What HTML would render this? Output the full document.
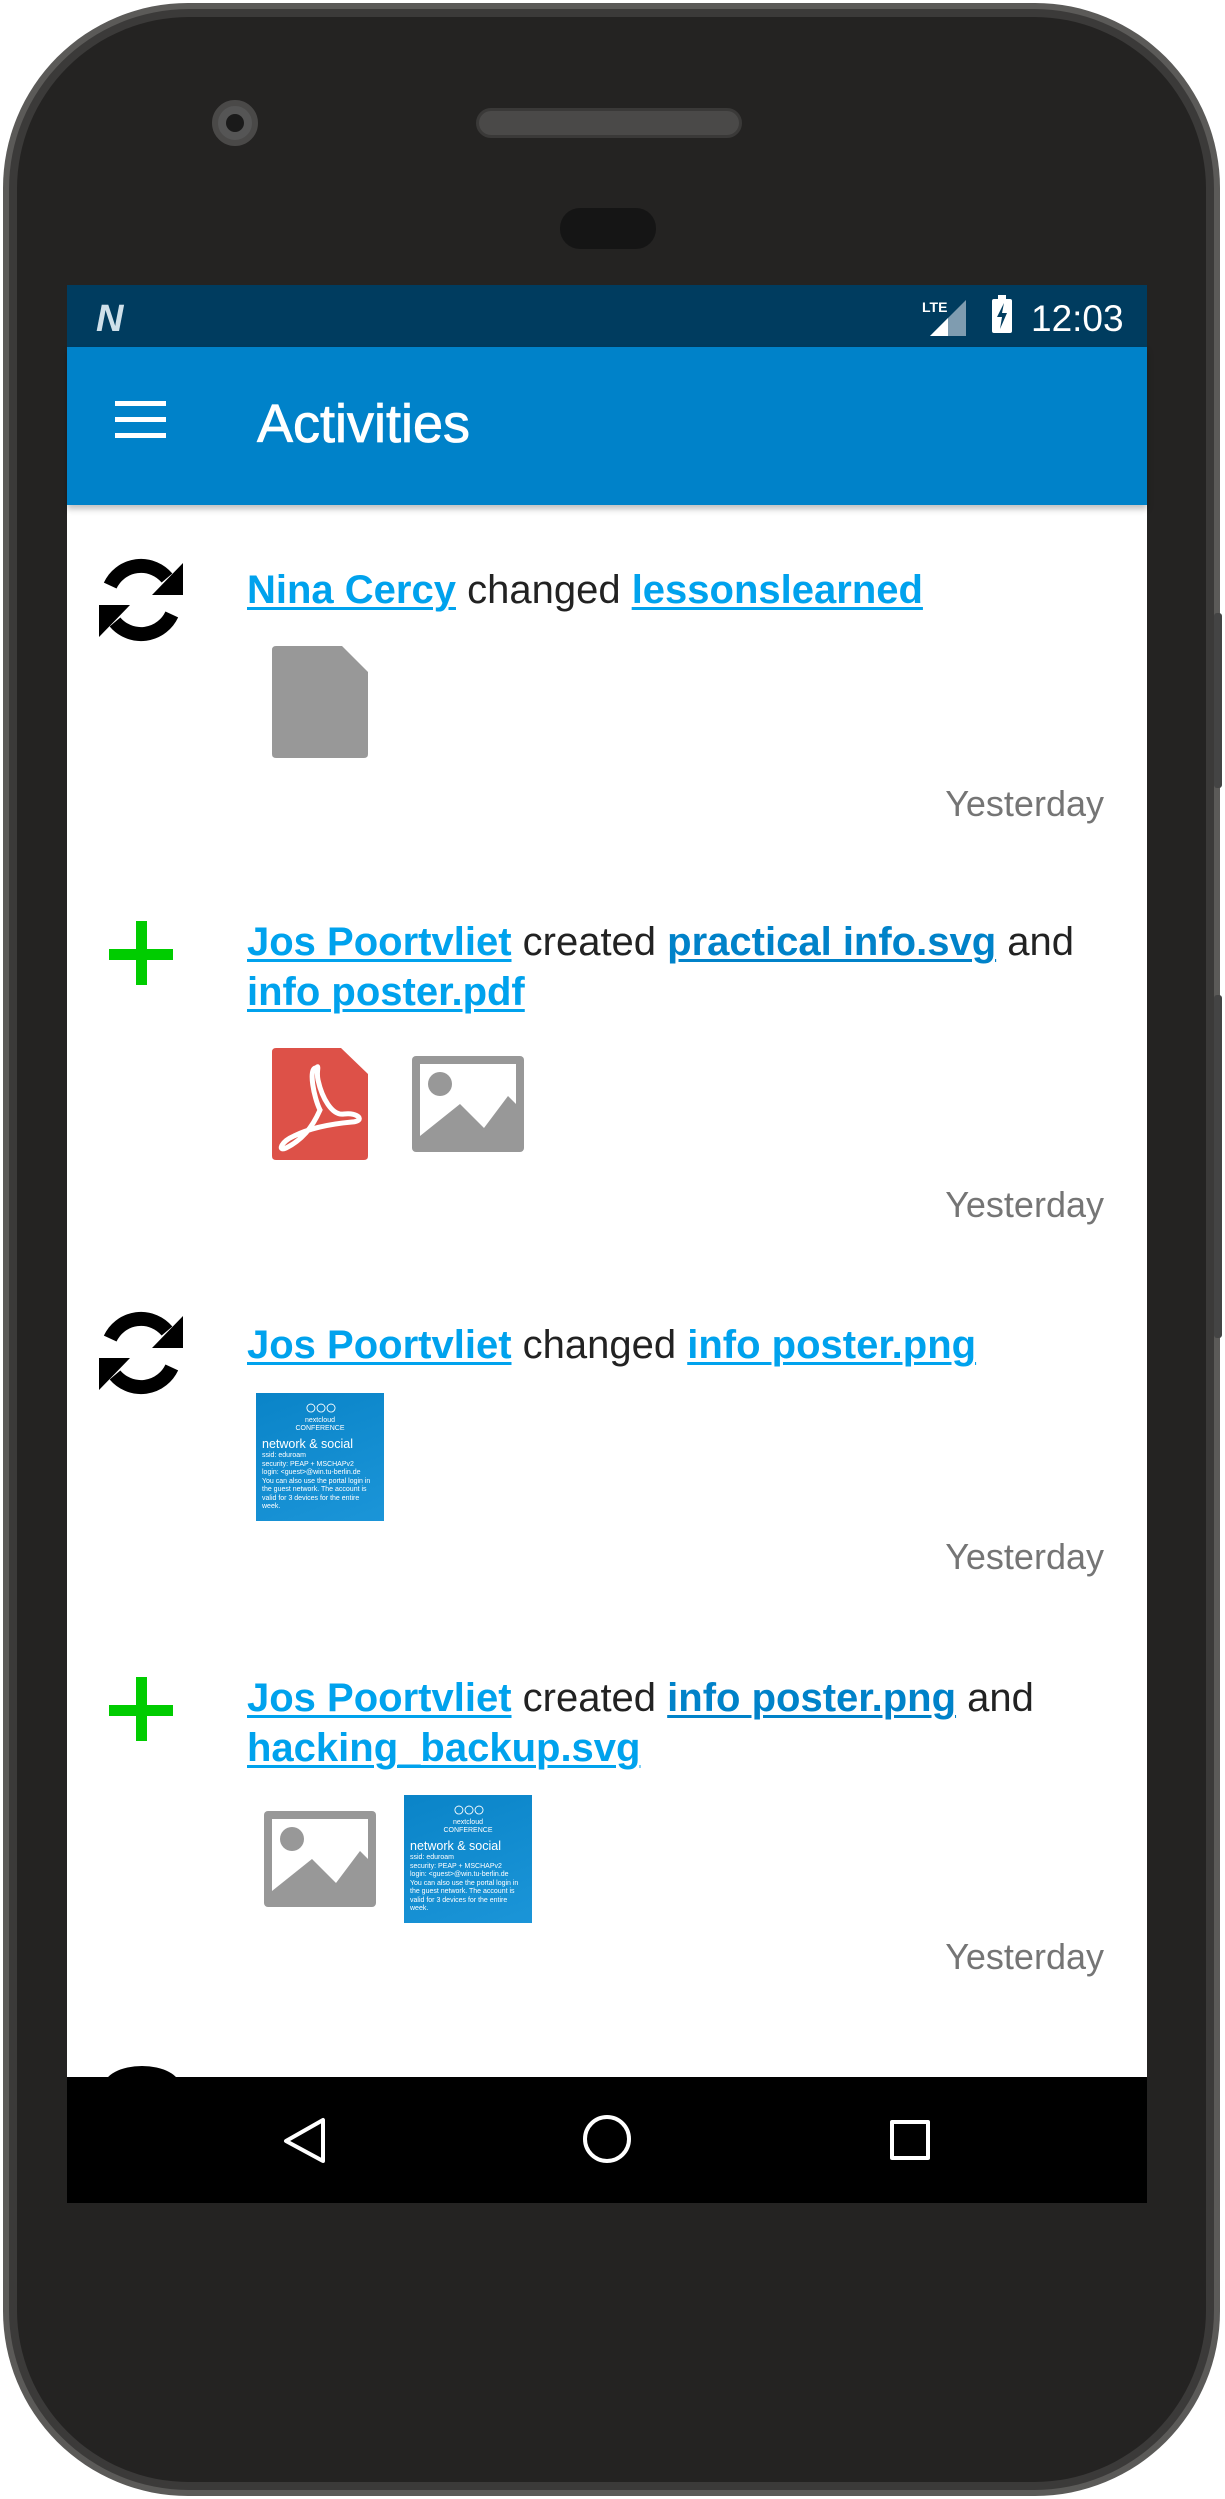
<!DOCTYPE html>
<html><head><meta charset="utf-8">
<style>
*{margin:0;padding:0;box-sizing:border-box}
body{width:1225px;height:2499px;background:#fff;position:relative;overflow:hidden;font-family:"Liberation Sans",sans-serif}
.abs{position:absolute}
.t{position:absolute;left:247px;font-size:40px;line-height:50px;color:#222;white-space:nowrap}
.t a{color:#00a2ed;font-weight:bold;text-decoration:underline;text-decoration-thickness:3px;text-underline-offset:4px}
.t a.d{color:#0082c9}
.y{position:absolute;right:121px;font-size:36px;line-height:40px;color:#757575}
.thumb{position:absolute;width:128px;height:128px;background:linear-gradient(160deg,#0a84c8,#1b95d8);color:#fff;font-size:7px;line-height:8.5px;padding:0 6px;overflow:hidden}
.thumb .big{font-size:12.5px;line-height:15px;margin-top:4px}
</style></head><body>
<div class="abs" style="left:3px;top:3px;width:1217px;height:2493px;border-radius:185px;background:#5b5a58"></div>
<div class="abs" style="left:9px;top:9px;width:1205px;height:2481px;border-radius:180px;background:#3b3a39"></div>
<div class="abs" style="left:17px;top:17px;width:1189px;height:2465px;border-radius:172px;background:#242322"></div>
<div class="abs" style="left:1214px;top:613px;width:8px;height:175px;background:#444;border-radius:3px"></div>
<div class="abs" style="left:1214px;top:995px;width:8px;height:343px;background:#444;border-radius:3px"></div>
<div class="abs" style="left:212px;top:100px;width:46px;height:46px;border-radius:50%;background:#555;border:6px solid #4a4948"></div>
<div class="abs" style="left:226px;top:114px;width:18px;height:18px;border-radius:50%;background:#1a1a1a"></div>
<div class="abs" style="left:476px;top:108px;width:266px;height:30px;border-radius:15px;background:#4a4948;border:3px solid #3a3938"></div>
<div class="abs" style="left:560px;top:208px;width:96px;height:41px;border-radius:20px;background:#151515"></div>
<div class="abs" style="left:67px;top:285px;width:1080px;height:1918px;background:#fff"></div>
<div class="abs" style="left:67px;top:285px;width:1080px;height:62px;background:#003c5f"></div>
<div class="abs" style="left:96px;top:300px;font-size:38px;font-weight:bold;color:#cfe0ea;line-height:38px;font-style:italic">N</div>
<svg class="abs" style="left:922px;top:298px" width="46" height="40"><text x="0" y="14" font-size="14" fill="#fff" font-family="Liberation Sans" font-weight="bold">LTE</text><polygon points="44,2 44,38 8,38" fill="#7f9cb0"/><polygon points="26,20 26,38 8,38" fill="#fff"/></svg>
<div class="abs" style="left:992px;top:299px;width:20px;height:34px;background:#fff;border-radius:2px"></div>
<div class="abs" style="left:998px;top:295px;width:8px;height:5px;background:#fff"></div>
<svg class="abs" style="left:992px;top:299px" width="20" height="34"><polygon points="12,4 5,18 10,18 8,30 15,14 10,14" fill="#003c5f"/></svg>
<div class="abs" style="left:1031px;top:299px;font-size:37px;line-height:40px;color:#fff">12:03</div>
<div class="abs" style="left:67px;top:347px;width:1080px;height:158px;background:#0082c9;box-shadow:0 4px 6px rgba(0,0,0,.25)"></div>
<div class="abs" style="left:115px;top:401px;width:51px;height:5px;background:#fff"></div>
<div class="abs" style="left:115px;top:417px;width:51px;height:5px;background:#fff"></div>
<div class="abs" style="left:115px;top:433px;width:51px;height:5px;background:#fff"></div>
<div class="abs" style="left:257px;top:394px;font-size:54px;line-height:60px;color:#fff;-webkit-text-stroke:0.8px #fff">Activities</div>

<svg class="abs" style="left:99px;top:558px" width="84" height="84"><g fill="none" stroke="#000" stroke-width="14"><path d="M11.2 27.6 A34 34 0 0 1 68 20"/><path d="M72.8 56.4 A34 34 0 0 1 16 64"/></g><polygon points="84,5 84,37 53,37"/><polygon points="0,79 0,47 31,47"/></svg>
<div class="t" style="top:565px"><a>Nina Cercy</a> changed <a>lessonslearned</a></div>
<svg class="abs" style="left:272px;top:646px" width="96" height="112"><path d="M4 0H70L96 26V108Q96 112 92 112H4Q0 112 0 108V4Q0 0 4 0Z" fill="#989898"/></svg>
<div class="y" style="top:784px">Yesterday</div>

<div class="abs" style="left:109px;top:949px;width:64px;height:11px;background:#00cc00"></div>
<div class="abs" style="left:136px;top:921px;width:11px;height:64px;background:#00cc00"></div>
<div class="t" style="top:917px"><a>Jos Poortvliet</a> created <a class="d">practical info.svg</a> and<br><a>info poster.pdf</a></div>
<svg class="abs" style="left:272px;top:1048px" width="96" height="112"><path d="M4 0H69L96 26V108Q96 112 92 112H4Q0 112 0 108V4Q0 0 4 0Z" fill="#dd5148"/><path d="M44 20 C36 20 42 50 48 62 C40 80 30 92 14 100 C6 104 8 94 22 88 C38 80 58 76 80 74 C94 73 86 64 72 66 C60 68 50 50 46 32 C44 22 48 16 44 20Z" fill="none" stroke="#fff" stroke-width="5"/></svg>
<svg class="abs" style="left:412px;top:1056px" width="112" height="96"><rect x="0" y="0" width="112" height="96" rx="4" fill="#989898"/><rect x="8" y="8" width="96" height="72" fill="#fff"/><circle cx="28" cy="28" r="12" fill="#989898"/><polygon points="8,80 48,48 72,72 96,40 104,48 104,80" fill="#989898"/></svg>
<div class="y" style="top:1185px">Yesterday</div>

<svg class="abs" style="left:99px;top:1311px" width="84" height="84"><g fill="none" stroke="#000" stroke-width="14"><path d="M11.2 27.6 A34 34 0 0 1 68 20"/><path d="M72.8 56.4 A34 34 0 0 1 16 64"/></g><polygon points="84,5 84,37 53,37"/><polygon points="0,79 0,47 31,47"/></svg>
<div class="t" style="top:1320px"><a>Jos Poortvliet</a> changed <a>info poster.png</a></div>
<div class="thumb" style="left:256px;top:1393px">
<div style="text-align:center;margin-top:6px;font-size:20px;line-height:18px;letter-spacing:-2px">○○○</div>
<div style="text-align:center;font-size:7px;line-height:8px">nextcloud<br>CONFERENCE</div>
<div class="big">network &amp; social</div>
<div>ssid: eduroam<br>security: PEAP + MSCHAPv2<br>login: &lt;guest&gt;@win.tu-berlin.de<br>You can also use the portal login in the guest network. The account is valid for 3 devices for the entire week.</div></div>
<div class="y" style="top:1537px">Yesterday</div>

<div class="abs" style="left:109px;top:1705px;width:64px;height:11px;background:#00cc00"></div>
<div class="abs" style="left:136px;top:1677px;width:11px;height:64px;background:#00cc00"></div>
<div class="t" style="top:1673px"><a>Jos Poortvliet</a> created <a class="d">info poster.png</a> and<br><a>hacking_backup.svg</a></div>
<svg class="abs" style="left:264px;top:1811px" width="112" height="96"><rect x="0" y="0" width="112" height="96" rx="4" fill="#989898"/><rect x="8" y="8" width="96" height="72" fill="#fff"/><circle cx="28" cy="28" r="12" fill="#989898"/><polygon points="8,80 48,48 72,72 96,40 104,48 104,80" fill="#989898"/></svg>
<div class="thumb" style="left:404px;top:1795px">
<div style="text-align:center;margin-top:6px;font-size:20px;line-height:18px;letter-spacing:-2px">○○○</div>
<div style="text-align:center;font-size:7px;line-height:8px">nextcloud<br>CONFERENCE</div>
<div class="big">network &amp; social</div>
<div>ssid: eduroam<br>security: PEAP + MSCHAPv2<br>login: &lt;guest&gt;@win.tu-berlin.de<br>You can also use the portal login in the guest network. The account is valid for 3 devices for the entire week.</div></div>
<div class="y" style="top:1937px">Yesterday</div>
<div class="abs" style="left:104px;top:2066px;width:76px;height:40px;border-radius:50%;background:#000"></div>

<div class="abs" style="left:67px;top:2077px;width:1080px;height:126px;background:#000"></div>
<svg class="abs" style="left:280px;top:2116px" width="50" height="50"><polygon points="43,4 43,45 6,25" fill="none" stroke="#fff" stroke-width="4" stroke-linejoin="round"/></svg>
<div class="abs" style="left:583px;top:2115px;width:48px;height:48px;border-radius:50%;border:4px solid #fff"></div>
<div class="abs" style="left:890px;top:2120px;width:40px;height:40px;border:4px solid #fff;border-radius:2px"></div>
</body></html>
